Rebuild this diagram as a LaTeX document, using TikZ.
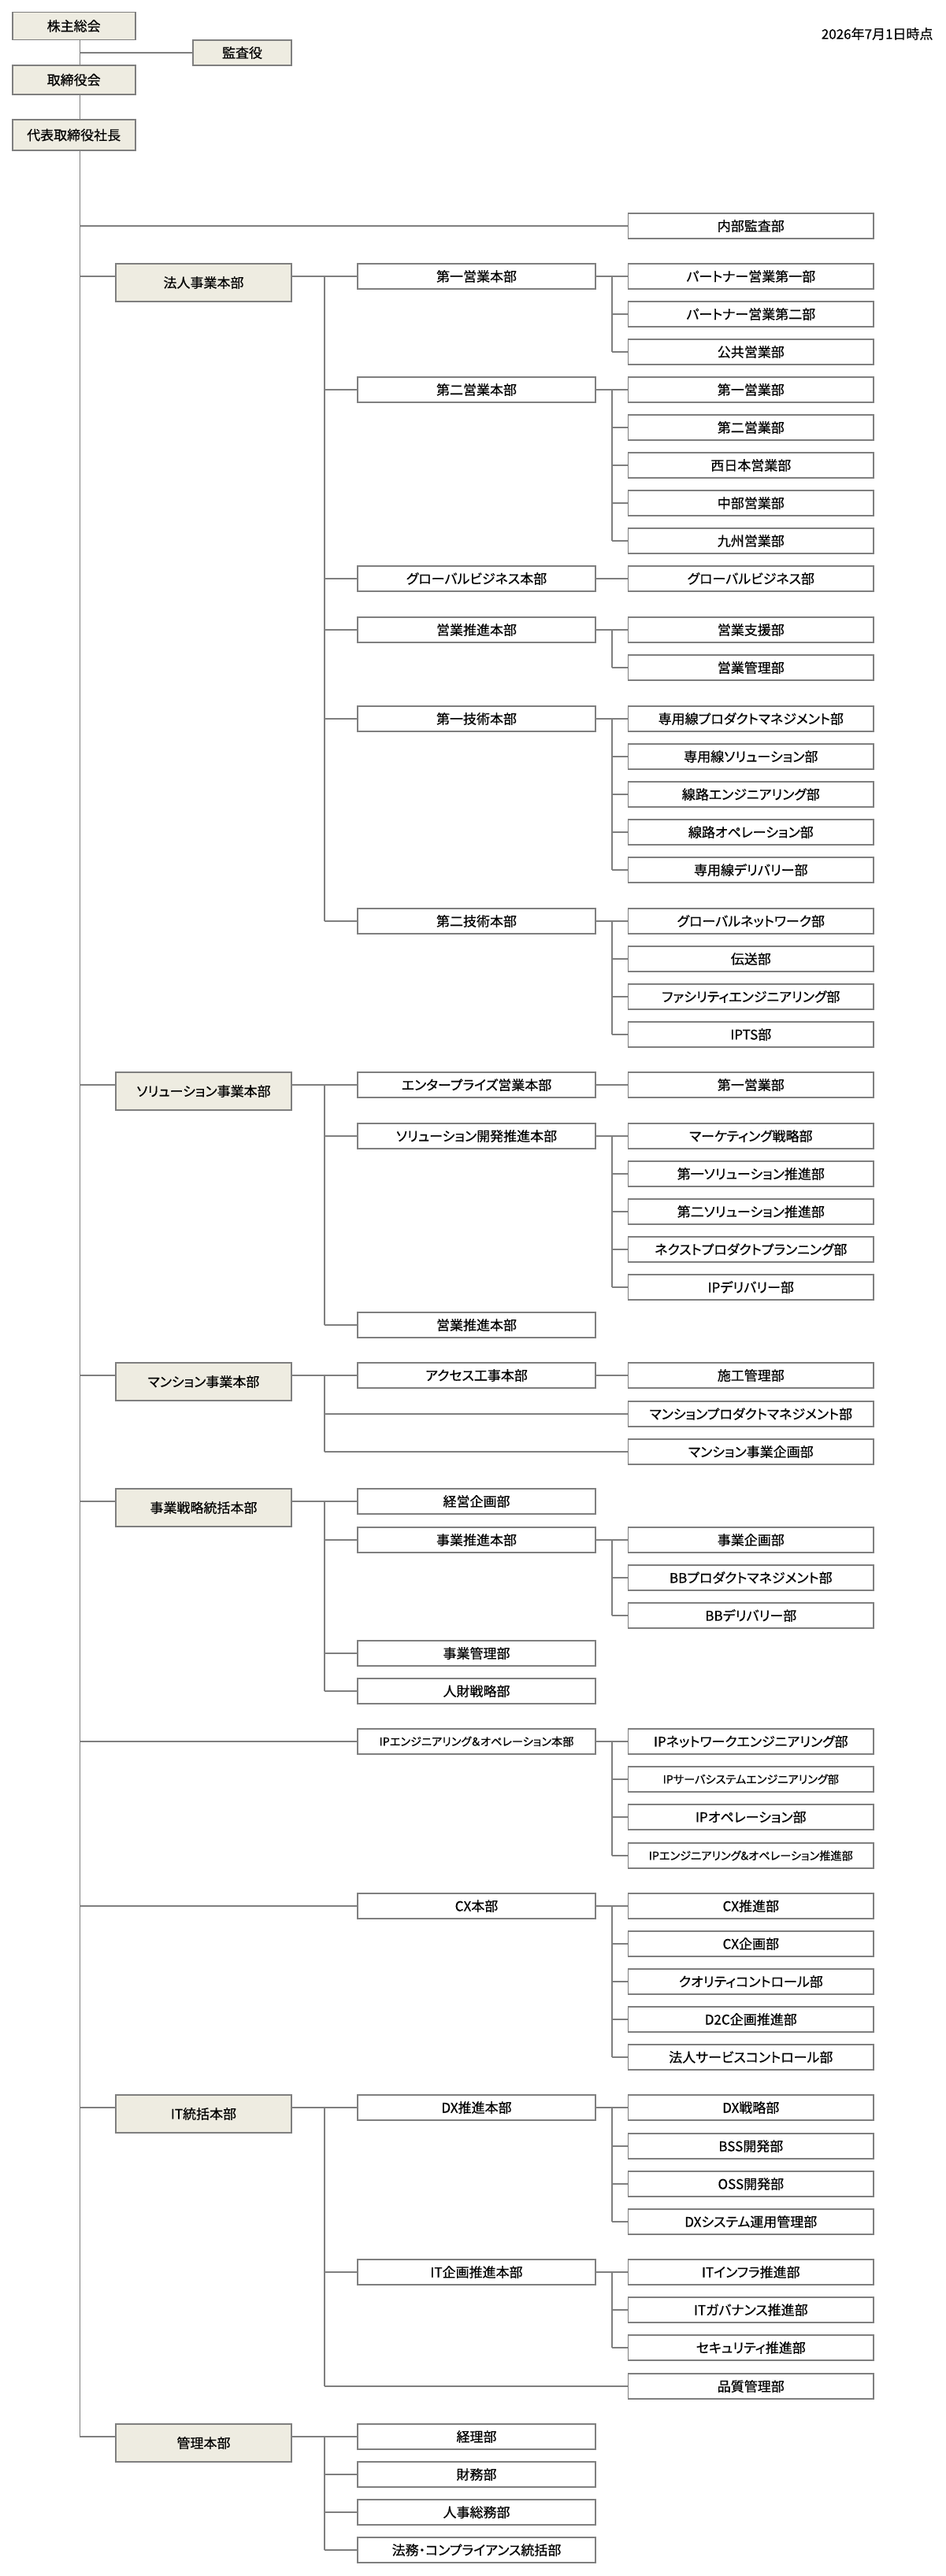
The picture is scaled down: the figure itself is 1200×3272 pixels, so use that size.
\documentclass[tikz,border=0pt]{standalone}
\usepackage{fontspec}
\setmainfont{Noto Sans CJK JP}[RawFeature=+palt,FakeBold=0.5]
\usepackage{tikz}
\definecolor{tanfill}{HTML}{EEECE1}
\definecolor{rulegray}{HTML}{7F7F7F}

\begin{document}
\begin{tikzpicture}[x=1pt,y=-1pt,
  box/.style={draw=rulegray,line width=1.6pt,inner sep=0pt,font=\fontsize{17}{19}\selectfont},
  topbox/.style={box,fill=tanfill,minimum width=156pt},
  hqbox/.style={box,fill=tanfill,minimum width=223pt,minimum height=48pt},
  midbox/.style={box,fill=white,minimum width=302pt,minimum height=32pt},
  deptbox/.style={box,fill=white,minimum width=311.5pt,minimum height=32pt},
  small/.style={font=\fontsize{14.2}{16}\selectfont},
  conn/.style={draw=rulegray,line width=1.6pt},
  trunk/.style={draw=rulegray,line width=1pt}]
\useasboundingbox (0,0) rectangle (1200,3272);

\coordinate (tr) at (101,0);
\coordinate (bus1) at (411.7,0);
\coordinate (bus2) at (776.7,0);

% top of the chart
\node[topbox,minimum height=35pt] (S) at (93.7,33) {株主総会};
\node[box,fill=tanfill,minimum width=125pt,minimum height=32pt] (K) at (307.5,67) {監査役};
\node[topbox,minimum height=37pt] (T) at (93.7,101.5) {取締役会};
\node[topbox,minimum height=39pt] (P) at (93.7,171.5) {代表取締役社長};
\node[anchor=east,font=\fontsize{17}{19}\selectfont] (date) at (1188,43) {2026年7月1日時点};

\node[deptbox] (N) at (953.3,287) {内部監査部};

% 法人事業本部
\node[hqbox] (A) at (258.5,359) {法人事業本部};
\node[midbox] (A1) at (605,351) {第一営業本部};
\node[deptbox] (A11) at (953.3,351) {パートナー営業第一部};
\node[deptbox] (A12) at (953.3,399) {パートナー営業第二部};
\node[deptbox] (A13) at (953.3,447) {公共営業部};
\node[midbox] (A2) at (605,495) {第二営業本部};
\node[deptbox] (A21) at (953.3,495) {第一営業部};
\node[deptbox] (A22) at (953.3,543) {第二営業部};
\node[deptbox] (A23) at (953.3,591) {西日本営業部};
\node[deptbox] (A24) at (953.3,639) {中部営業部};
\node[deptbox] (A25) at (953.3,687) {九州営業部};
\node[midbox] (A3) at (605,735) {グローバルビジネス本部};
\node[deptbox] (A31) at (953.3,735) {グローバルビジネス部};
\node[midbox] (A4) at (605,800) {営業推進本部};
\node[deptbox] (A41) at (953.3,800) {営業支援部};
\node[deptbox] (A42) at (953.3,848) {営業管理部};
\node[midbox] (A5) at (605,913) {第一技術本部};
\node[deptbox] (A51) at (953.3,913) {専用線プロダクトマネジメント部};
\node[deptbox] (A52) at (953.3,961) {専用線ソリューション部};
\node[deptbox] (A53) at (953.3,1009) {線路エンジニアリング部};
\node[deptbox] (A54) at (953.3,1057) {線路オペレーション部};
\node[deptbox] (A55) at (953.3,1105) {専用線デリバリー部};
\node[midbox] (A6) at (605,1170) {第二技術本部};
\node[deptbox] (A61) at (953.3,1170) {グローバルネットワーク部};
\node[deptbox] (A62) at (953.3,1218) {伝送部};
\node[deptbox] (A63) at (953.3,1266) {ファシリティエンジニアリング部};
\node[deptbox] (A64) at (953.3,1314) {IPTS部};

% ソリューション事業本部
\node[hqbox] (B) at (258.5,1386) {ソリューション事業本部};
\node[midbox] (B1) at (605,1378) {エンタープライズ営業本部};
\node[deptbox] (B11) at (953.3,1378) {第一営業部};
\node[midbox] (B2) at (605,1443) {ソリューション開発推進本部};
\node[deptbox] (B21) at (953.3,1443) {マーケティング戦略部};
\node[deptbox] (B22) at (953.3,1491) {第一ソリューション推進部};
\node[deptbox] (B23) at (953.3,1539) {第二ソリューション推進部};
\node[deptbox] (B24) at (953.3,1587) {ネクストプロダクトプランニング部};
\node[deptbox] (B25) at (953.3,1635) {IPデリバリー部};
\node[midbox] (B3) at (605,1683) {営業推進本部};

% マンション事業本部
\node[hqbox] (C) at (258.5,1755) {マンション事業本部};
\node[midbox] (C1) at (605,1747) {アクセス工事本部};
\node[deptbox] (C11) at (953.3,1747) {施工管理部};
\node[deptbox] (C2) at (953.3,1796) {マンションプロダクトマネジメント部};
\node[deptbox] (C3) at (953.3,1844) {マンション事業企画部};

% 事業戦略統括本部
\node[hqbox] (D) at (258.5,1915) {事業戦略統括本部};
\node[midbox] (D1) at (605,1907) {経営企画部};
\node[midbox] (D2) at (605,1956) {事業推進本部};
\node[deptbox] (D21) at (953.3,1956) {事業企画部};
\node[deptbox] (D22) at (953.3,2004) {BBプロダクトマネジメント部};
\node[deptbox] (D23) at (953.3,2052) {BBデリバリー部};
\node[midbox] (D3) at (605,2100) {事業管理部};
\node[midbox] (D4) at (605,2148) {人財戦略部};

% IP / CX
\node[midbox,small] (E) at (605,2212) {IPエンジニアリング＆オペレーション本部};
\node[deptbox] (E1) at (953.3,2212) {IPネットワークエンジニアリング部};
\node[deptbox,small] (E2) at (953.3,2260) {IPサーバシステムエンジニアリング部};
\node[deptbox] (E3) at (953.3,2308) {IPオペレーション部};
\node[deptbox,small] (E4) at (953.3,2357) {IPエンジニアリング\&オペレーション推進部};

\node[midbox] (F) at (605,2421) {CX本部};
\node[deptbox] (F1) at (953.3,2421) {CX推進部};
\node[deptbox] (F2) at (953.3,2469) {CX企画部};
\node[deptbox] (F3) at (953.3,2517) {クオリティコントロール部};
\node[deptbox] (F4) at (953.3,2565) {D2C企画推進部};
\node[deptbox] (F5) at (953.3,2613) {法人サービスコントロール部};

% IT統括本部
\node[hqbox] (G) at (258.5,2685) {IT統括本部};
\node[midbox] (G1) at (605,2677) {DX推進本部};
\node[deptbox] (G11) at (953.3,2677) {DX戦略部};
\node[deptbox] (G12) at (953.3,2726) {BSS開発部};
\node[deptbox] (G13) at (953.3,2774) {OSS開発部};
\node[deptbox] (G14) at (953.3,2822) {DXシステム運用管理部};
\node[midbox] (G2) at (605,2886) {IT企画推進本部};
\node[deptbox] (G21) at (953.3,2886) {ITインフラ推進部};
\node[deptbox] (G22) at (953.3,2934) {ITガバナンス推進部};
\node[deptbox] (G23) at (953.3,2982) {セキュリティ推進部};
\node[deptbox] (G3) at (953.3,3031) {品質管理部};

% 管理本部
\node[hqbox] (H) at (258.5,3103) {管理本部};
\node[midbox] (H1) at (605,3095) {経理部};
\node[midbox] (H2) at (605,3143) {財務部};
\node[midbox] (H3) at (605,3191) {人事総務部};
\node[midbox] (H4) at (605,3239) {法務・コンプライアンス統括部};

% trunk
\draw[trunk] (tr |- S.south) -- (tr |- T.north);
\draw[trunk] (tr |- T.south) -- (tr |- P.north);
\draw[trunk] (tr |- P.south) -- (tr |- H1.west);
\path[conn] (tr |- K.west) edge (K.west)
  (tr |- N.west) edge (N.west)
  (tr |- A1.west) edge (A1.west -| A.west)
  (tr |- B1.west) edge (B1.west -| B.west)
  (tr |- C1.west) edge (C1.west -| C.west)
  (tr |- D1.west) edge (D1.west -| D.west)
  (tr |- E.west) edge (E.west)
  (tr |- F.west) edge (F.west)
  (tr |- G1.west) edge (G1.west -| G.west)
  (tr |- H1.west) edge (H1.west -| H.west);

% 法人事業本部
\path[conn] (A1.west -| A.east) edge (A1.west)
  (bus1 |- A1.west) edge (bus1 |- A6.west)
  (bus1 |- A2.west) edge (A2.west)
  (bus1 |- A3.west) edge (A3.west)
  (bus1 |- A4.west) edge (A4.west)
  (bus1 |- A5.west) edge (A5.west)
  (bus1 |- A6.west) edge (A6.west);
\path[conn] (A1.east) edge (A11.west)
  (bus2 |- A11.west) edge (bus2 |- A13.west)
  (bus2 |- A12.west) edge (A12.west)
  (bus2 |- A13.west) edge (A13.west);
\path[conn] (A2.east) edge (A21.west)
  (bus2 |- A21.west) edge (bus2 |- A25.west)
  (bus2 |- A22.west) edge (A22.west)
  (bus2 |- A23.west) edge (A23.west)
  (bus2 |- A24.west) edge (A24.west)
  (bus2 |- A25.west) edge (A25.west);
\path[conn] (A3.east) edge (A31.west);
\path[conn] (A4.east) edge (A41.west)
  (bus2 |- A41.west) edge (bus2 |- A42.west)
  (bus2 |- A42.west) edge (A42.west);
\path[conn] (A5.east) edge (A51.west)
  (bus2 |- A51.west) edge (bus2 |- A55.west)
  (bus2 |- A52.west) edge (A52.west)
  (bus2 |- A53.west) edge (A53.west)
  (bus2 |- A54.west) edge (A54.west)
  (bus2 |- A55.west) edge (A55.west);
\path[conn] (A6.east) edge (A61.west)
  (bus2 |- A61.west) edge (bus2 |- A64.west)
  (bus2 |- A62.west) edge (A62.west)
  (bus2 |- A63.west) edge (A63.west)
  (bus2 |- A64.west) edge (A64.west);

% ソリューション事業本部
\path[conn] (B1.west -| B.east) edge (B1.west)
  (bus1 |- B1.west) edge (bus1 |- B3.west)
  (bus1 |- B2.west) edge (B2.west)
  (bus1 |- B3.west) edge (B3.west);
\path[conn] (B1.east) edge (B11.west);
\path[conn] (B2.east) edge (B21.west)
  (bus2 |- B21.west) edge (bus2 |- B25.west)
  (bus2 |- B22.west) edge (B22.west)
  (bus2 |- B23.west) edge (B23.west)
  (bus2 |- B24.west) edge (B24.west)
  (bus2 |- B25.west) edge (B25.west);

% マンション事業本部
\path[conn] (C1.west -| C.east) edge (C1.west)
  (bus1 |- C1.west) edge (bus1 |- C3.west)
  (bus1 |- C2.west) edge (C2.west)
  (bus1 |- C3.west) edge (C3.west)
  (C1.east) edge (C11.west);

% 事業戦略統括本部
\path[conn] (D1.west -| D.east) edge (D1.west)
  (bus1 |- D1.west) edge (bus1 |- D4.west)
  (bus1 |- D2.west) edge (D2.west)
  (bus1 |- D3.west) edge (D3.west)
  (bus1 |- D4.west) edge (D4.west);
\path[conn] (D2.east) edge (D21.west)
  (bus2 |- D21.west) edge (bus2 |- D23.west)
  (bus2 |- D22.west) edge (D22.west)
  (bus2 |- D23.west) edge (D23.west);

% IP / CX
\path[conn] (E.east) edge (E1.west)
  (bus2 |- E1.west) edge (bus2 |- E4.west)
  (bus2 |- E2.west) edge (E2.west)
  (bus2 |- E3.west) edge (E3.west)
  (bus2 |- E4.west) edge (E4.west);
\path[conn] (F.east) edge (F1.west)
  (bus2 |- F1.west) edge (bus2 |- F5.west)
  (bus2 |- F2.west) edge (F2.west)
  (bus2 |- F3.west) edge (F3.west)
  (bus2 |- F4.west) edge (F4.west)
  (bus2 |- F5.west) edge (F5.west);

% IT統括本部
\path[conn] (G1.west -| G.east) edge (G1.west)
  (bus1 |- G1.west) edge (bus1 |- G3.west)
  (bus1 |- G2.west) edge (G2.west)
  (bus1 |- G3.west) edge (G3.west);
\path[conn] (G1.east) edge (G11.west)
  (bus2 |- G11.west) edge (bus2 |- G14.west)
  (bus2 |- G12.west) edge (G12.west)
  (bus2 |- G13.west) edge (G13.west)
  (bus2 |- G14.west) edge (G14.west);
\path[conn] (G2.east) edge (G21.west)
  (bus2 |- G21.west) edge (bus2 |- G23.west)
  (bus2 |- G22.west) edge (G22.west)
  (bus2 |- G23.west) edge (G23.west);

% 管理本部
\path[conn] (H1.west -| H.east) edge (H1.west)
  (bus1 |- H1.west) edge (bus1 |- H4.west)
  (bus1 |- H2.west) edge (H2.west)
  (bus1 |- H3.west) edge (H3.west)
  (bus1 |- H4.west) edge (H4.west);

\end{tikzpicture}
\end{document}
